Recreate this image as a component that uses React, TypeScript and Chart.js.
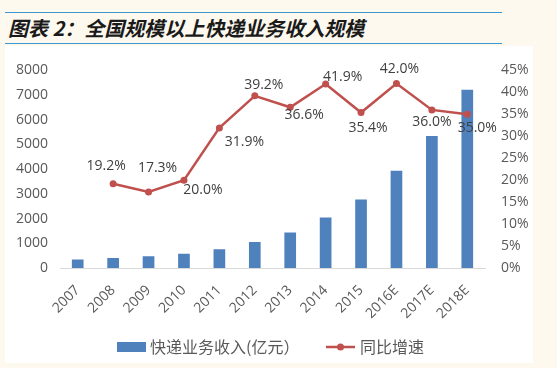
import React, { useEffect, useRef } from "react";
import { Chart, registerables } from "chart.js";

Chart.register(...registerables);

const titleText = "图表 2：全国规模以上快递业务收入规模";
const categories = ["2007", "2008", "2009", "2010", "2011", "2012", "2013", "2014", "2015", "2016E", "2017E", "2018E"];
const revenue = [340, 408, 479, 575, 758, 1055, 1442, 2045, 2770, 3933, 5349, 7221];
const growth = [null, 19.2, 17.3, 20.0, 31.9, 39.2, 36.6, 41.9, 35.4, 42.0, 36.0, 35.0];
const seriesNames = ["快递业务收入(亿元）", "同比增速"];
const leftAxis = { min: 0, max: 8000, step: 1000 };
const rightAxis = { min: 0, max: 45, step: 5 };

// label placement offsets (dx, dy) relative to each point
const labelOffsets: [number, number][] = [
  [0, 0], [-7, -18], [9, -24], [19, 10], [25, 14], [9, -11],
  [14, 8], [17, -7], [7, 15], [3, -15], [0, 12], [10, 14],
];

const BAR = "#4f81bd";
const LINE = "#c0504d";
const TXT = "#595959";
const FONT = "'Open Sans', 'Noto Sans CJK SC', sans-serif";
const CJK = "'Noto Sans CJK SC', sans-serif";

const labelPlugin = {
  id: "pctLabels",
  afterDatasetsDraw(chart: any) {
    const meta = chart.getDatasetMeta(1);
    const ctx = chart.ctx;
    ctx.save();
    ctx.font = `14px ${FONT}`;
    ctx.fillStyle = "#404040";
    ctx.textAlign = "center";
    ctx.textBaseline = "middle";
    meta.data.forEach((el: any, i: number) => {
      const v = growth[i];
      if (v == null) return;
      const [dx, dy] = labelOffsets[i];
      ctx.fillText(v.toFixed(1) + "%", el.x + dx, el.y + dy);
    });
    ctx.restore();
  },
};

const legendPlugin = {
  id: "customLegend",
  afterDraw(chart: any) {
    const ctx = chart.ctx;
    const y = 301;
    ctx.save();
    ctx.fillStyle = BAR;
    ctx.fillRect(112, y - 5, 29, 10);
    ctx.font = `16px ${CJK}`;
    ctx.fillStyle = TXT;
    ctx.textBaseline = "middle";
    ctx.textAlign = "left";
    ctx.fillText(seriesNames[0], 145, y);
    ctx.strokeStyle = LINE;
    ctx.lineWidth = 2.5;
    ctx.beginPath();
    ctx.moveTo(321, y);
    ctx.lineTo(350, y);
    ctx.stroke();
    ctx.fillStyle = LINE;
    ctx.beginPath();
    ctx.arc(335.5, y, 3.5, 0, Math.PI * 2);
    ctx.fill();
    ctx.fillStyle = TXT;
    ctx.fillText(seriesNames[1], 355, y);
    ctx.restore();
  },
};

export default function App() {
  const ref = useRef<HTMLCanvasElement | null>(null);
  useEffect(() => {
    if (!ref.current) return;
    const chart = new Chart(ref.current, {
      type: "bar",
      data: {
        labels: categories,
        datasets: [
          {
            type: "bar",
            label: seriesNames[0],
            data: revenue,
            backgroundColor: BAR,
            yAxisID: "y",
            categoryPercentage: 1,
            barPercentage: 0.33,
            order: 2,
          },
          {
            type: "line",
            label: seriesNames[1],
            data: growth as any,
            borderColor: LINE,
            backgroundColor: LINE,
            borderWidth: 2.5,
            pointRadius: 3.5,
            pointBackgroundColor: LINE,
            pointBorderWidth: 0,
            yAxisID: "y1",
            spanGaps: false,
            tension: 0,
            order: 1,
          },
        ],
      } as any,
      options: {
        animation: false,
        responsive: false,
        maintainAspectRatio: false,
        devicePixelRatio: 1,
        layout: { padding: { top: 17, left: 0, right: 0, bottom: 0 } },
        plugins: { legend: { display: false }, tooltip: { enabled: false }, title: { display: false } },
        scales: {
          x: {
            grid: { display: false, drawTicks: false },
            border: { display: true, color: "#d9d9d9", width: 1 },
            ticks: { color: TXT, font: { family: FONT, size: 14 }, minRotation: 45, maxRotation: 45, padding: 14, autoSkip: false },
            afterFit: (s: any) => { s.height = 95; },
          },
          y: {
            position: "left",
            min: leftAxis.min,
            max: leftAxis.max,
            ticks: { stepSize: leftAxis.step, padding: 12, color: TXT, font: { family: FONT, size: 14 }, callback: (v: any) => String(v) },
            grid: { display: false, drawTicks: false },
            border: { display: false },
            afterFit: (s: any) => { s.width = 55; },
          },
          y1: {
            position: "right",
            min: rightAxis.min,
            max: rightAxis.max,
            ticks: { stepSize: rightAxis.step, padding: 16, color: TXT, font: { family: FONT, size: 14 }, callback: (v: any) => `${v}%` },
            grid: { display: false, drawTicks: false },
            border: { display: false },
            afterFit: (s: any) => { s.width = 48; },
          },
        },
      } as any,
      plugins: [labelPlugin, legendPlugin],
    });
    return () => chart.destroy();
  }, []);

  return (
    <div style={{ position: "fixed", left: 0, top: 0, width: 557, height: 368, background: "#fdf9ef", overflow: "hidden" }}>
      <div style={{ position: "absolute", left: 5, top: 12, width: 497, height: 0, borderTop: "1.5px solid #3d97cf" }} />
      <div style={{ position: "absolute", left: 5, top: 43, width: 497, height: 0, borderTop: "1.5px solid #3d97cf" }} />
      <div
        style={{
          position: "absolute",
          left: 8,
          top: 13,
          height: 29,
          lineHeight: "29px",
          fontFamily: CJK,
          fontWeight: 700,
          fontStyle: "italic",
          fontSize: 20,
          color: "#1a1a1a",
          whiteSpace: "nowrap",
        }}
      >
        {titleText}
      </div>
      <div style={{ position: "absolute", left: 5, top: 46, width: 528, height: 317, background: "#ffffff" }}>
        <canvas ref={ref} width={528} height={317} style={{ display: "block", width: 528, height: 317 }} />
      </div>
    </div>
  );
}
